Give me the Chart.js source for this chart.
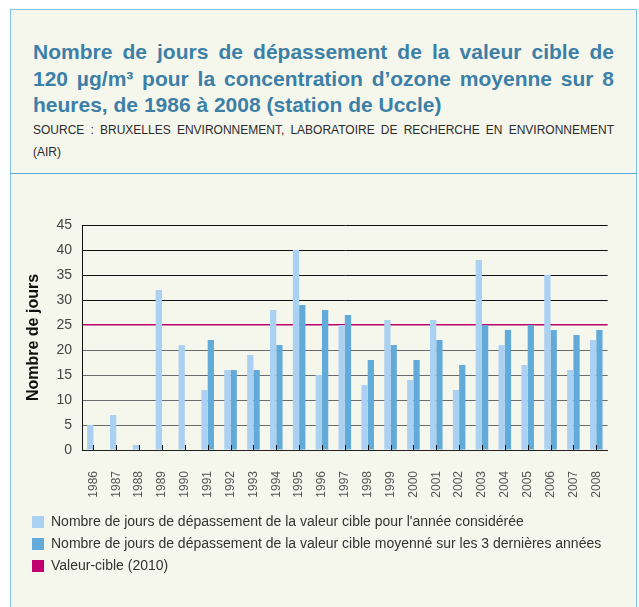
<!DOCTYPE html>
<html>
<head>
<meta charset="utf-8">
<script src="https://cdn.jsdelivr.net/npm/chart.js@4.4.0/dist/chart.umd.min.js"></script>
<style>
  body { margin: 0; background: #fff; font-family: "Liberation Sans", Arial, sans-serif; }
  #panel { position: absolute; left: 10px; top: 9px; width: 625px; height: 620px;
           background: #f5f6ec; border: 1px solid #7fc2ec; border-bottom: none; }
  #divider { position: absolute; left: 10px; top: 173px; width: 627px; height: 1px; background: #5aaadf; }
  .title { position: absolute; left: 33px; top: 39px; width: 581px; color: #3c7fa7;
           font-size: 21px; font-weight: bold; line-height: 26.5px; }
  .source { position: absolute; left: 33px; top: 119px; width: 581px; color: #2b2b2b;
            font-size: 12px; line-height: 22px; }
  .just { text-align: justify; text-align-last: justify; white-space: nowrap; }
  #wrap { position: absolute; left: 24px; top: 200px; width: 600px; height: 383px; }
</style>
</head>
<body>
<div id="panel"></div>
<div id="divider"></div>
<div class="title">
  <div class="just">Nombre de jours de dépassement de la valeur cible de</div>
  <div class="just">120 µg/m³ pour la concentration d’ozone moyenne sur 8</div>
  <div>heures, de 1986 à 2008 (station de Uccle)</div>
</div>
<div class="source">
  <div class="just">SOURCE : BRUXELLES ENVIRONNEMENT, LABORATOIRE DE RECHERCHE EN ENVIRONNEMENT</div>
  <div>(AIR)</div>
</div>
<div id="wrap"><canvas id="chart" width="600" height="383"></canvas></div>
<script>
const years = ['1986', '1987', '1988', '1989', '1990', '1991', '1992', '1993', '1994', '1995', '1996', '1997',
  '1998', '1999', '2000', '2001', '2002', '2003', '2004', '2005', '2006', '2007', '2008'];
// jours de dépassement pour l'année
const annualDays = [5, 7, 1, 32, 21, 12, 16, 19, 28, 40, 15, 25, 13, 26, 14, 26, 12, 38, 21, 17, 35, 16, 22];
// moyenne sur les 3 dernières années
const meanDays = [null, null, null, null, null, 22, 16, 16, 21, 29, 28, 27, 18, 21, 18, 22, 17, 25, 24, 25, 24, 23, 24];
const targetValue = 25;
const yMax = 45;
const yStep = 5;

const annualLabel = "Nombre de jours de dépassement de la valeur cible pour l'année considérée";
const meanLabel = 'Nombre de jours de dépassement de la valeur cible moyenné sur les 3 dernières années';
const targetLabel = 'Valeur-cible (2010)';
const targetColor = '#c0006f';

Chart.defaults.font.family = '"Liberation Sans", Arial, sans-serif';

// petits traits vers le haut au centre de chaque année
const innerTicks = {
  id: 'innerTicks',
  afterDatasetsDraw(chart) {
    const {ctx, chartArea, scales: {x}} = chart;
    ctx.save();
    ctx.strokeStyle = '#111';
    ctx.lineWidth = 1;
    x.ticks.forEach((t, i) => {
      const px = Math.round(x.getPixelForTick(i)) + 0.5;
      ctx.beginPath();
      ctx.moveTo(px, chartArea.bottom);
      ctx.lineTo(px, chartArea.bottom - 5);
      ctx.stroke();
    });
    ctx.restore();
  }
};

new Chart(document.getElementById('chart'), {
  type: 'bar',
  data: {
    labels: years,
    datasets: [{
      label: annualLabel,
      data: annualDays,
      backgroundColor: '#aad1f2',
      borderWidth: 0
    }, {
      label: meanLabel,
      data: meanDays,
      backgroundColor: '#62aad8',
      borderWidth: 0
    }]
  },
  options: {
    responsive: false,
    animation: false,
    devicePixelRatio: 1,
    categoryPercentage: 0.55,
    barPercentage: 1.0,
    layout: {padding: {top: 25, right: 16, left: 0, bottom: 0}},
    scales: {
      x: {
        grid: {display: false},
        border: {display: true, color: '#222', width: 1},
        ticks: {color: '#555', font: {size: 12}, minRotation: 90, maxRotation: 90, padding: 13, autoSkip: false},
        afterFit: s => { s.height = 57; }
      },
      y: {
        min: 0,
        max: yMax,
        ticks: {stepSize: yStep, color: '#444', font: {size: 14}, padding: 10},
        grid: {
          drawTicks: false,
          color: c => c.tick.value === targetValue ? targetColor : (c.tick.value > targetValue ? '#111' : '#6a6a6a'),
          lineWidth: c => c.tick.value === targetValue ? 1.5 : 1
        },
        border: {color: '#111'},
        title: {display: true, text: 'Nombre de jours', color: '#111', font: {size: 16, weight: 'bold'}, padding: {top: 0, bottom: 4}},
        afterFit: s => { s.width = 58; }
      }
    },
    plugins: {
      tooltip: {enabled: false},
      legend: {
        position: 'bottom',
        align: 'start',
        labels: {
          boxWidth: 12,
          boxHeight: 12,
          padding: 8,
          color: '#333',
          font: {size: 14},
          generateLabels: chart => {
            const items = Chart.defaults.plugins.legend.labels.generateLabels(chart);
            items.push({text: targetLabel, fillStyle: targetColor, strokeStyle: targetColor, lineWidth: 0, hidden: false, fontColor: '#333'});
            return items;
          }
        }
      }
    }
  },
  plugins: [innerTicks]
});
</script>
</body>
</html>
